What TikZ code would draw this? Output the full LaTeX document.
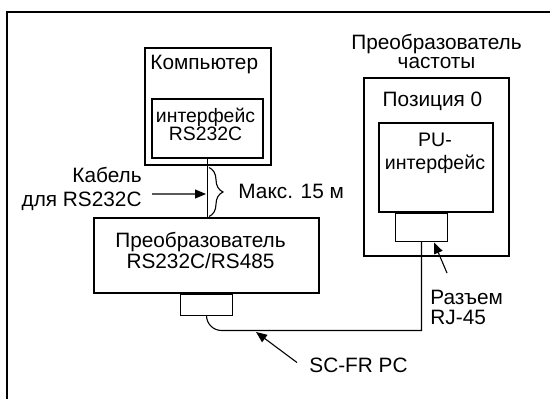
\documentclass[tikz,border=0pt]{standalone}
\usepackage{fontspec}
\setmainfont{Liberation Sans}
\usetikzlibrary{arrows.meta,positioning,decorations.pathreplacing}
\lineskiplimit=-\maxdimen
\newcommand\fsz[1]{\fontsize{10.4}{#1}\selectfont}

\begin{document}
\begin{tikzpicture}[
    x=0.5pt,y=-0.5pt,
    unitbox/.style={draw,line width=1pt,inner sep=0pt},
    partbox/.style={draw,line width=0.55pt,inner sep=0pt},
    txt/.style={inner sep=0pt,font=\fsz{12pt}},
    arr/.style={-{Triangle[length=5.5pt,width=4.5pt]},line width=0.55pt},
    cable/.style={line width=0.55pt},
    bracket/.style={decorate,decoration={brace,amplitude=7pt},line width=0.55pt}
  ]
  \useasboundingbox (0,0) rectangle (550,399);
  \draw[line width=1pt] (7,399) -- (7,12) -- (550,12);
  % computer
  \node[unitbox,minimum width=63pt,minimum height=58.5pt] (pc) at (208,106.5) {};
  \node[txt,anchor=base west] (pcname) at (150,70) {Компьютер};
  \node[partbox,minimum width=55.5pt,minimum height=29.5pt] (rsif) at (207.5,128.5) {};
  \node[txt,align=center,font=\fontsize{9.7}{9.2pt}\selectfont] (rsifname) at (205.5,124.5) {интерфейс\\RS232C};
  % converter
  \node[partbox,minimum width=112.5pt,minimum height=37.5pt] (conv) at (206.5,255.5) {};
  \node[txt,align=center,font=\fsz{10.85pt}] (convname) at (200.5,250.6) {Преобразователь\\RS232C/RS485};
  \node[partbox,minimum width=26pt,minimum height=10.5pt,below=0pt of conv] (pcon) {};
  % inverter
  \node[unitbox,minimum width=72.5pt,minimum height=89pt] (fc) at (436.5,167) {};
  \node[txt,align=center,font=\fsz{9.5pt}] (fcname) at (436.5,51.8) {Преобразователь\\частоты};
  \node[txt,anchor=base] (fcpos) at (432.5,106.7) {Позиция 0};
  \node[partbox,minimum width=57pt,minimum height=44.5pt] (pu) at (436,167.5) {};
  \node[txt,align=center,font=\fontsize{9.8}{11.35pt}\selectfont] (puname) at (435,153.4) {PU-\\интерфейс};
  \node[partbox,minimum width=26pt,minimum height=14pt,below=0pt of pu,xshift=-7.25pt] (fcon) {};
  % labels
  \node[txt,align=right,anchor=east] (cablbl) at (142,189.2) {Кабель\\для RS232C};
  \node[txt,anchor=base west] (maxlbl) at (238,198.3) {Макс. 15 м};
  \node[txt,anchor=base west] (scfr) at (309,372.7) {SC-FR PC};
  \node[txt,align=left,anchor=west,font=\fsz{10pt}] (rjlbl) at (430,307.7) {Разъем\\RJ-45};
  % cables
  \coordinate (cabtip) at (206,194);
  \coordinate (bracetop) at (209,167.5);
  \coordinate (bracebot) at (209,216.5);
  \coordinate (cablebend) at (300,330.5);
  \coordinate (frtip) at (256,332);
  \coordinate (rjtip) at (434,242.5);
  \draw[cable] (rsif.south) -- (rsif.south |- conv.north);
  \draw[bracket] (bracetop) -- (bracebot);
  \draw[arr] ([xshift=5pt,yshift=-2.4pt]cablbl.east) -- (cabtip);
  \draw[cable] (pcon.south) [rounded corners=7.5pt] |- (cablebend) [sharp corners] -| (fcon.south);
  \draw[arr] ([xshift=-6pt,yshift=1.5pt]scfr.west) -- (frtip);
  \draw[arr] ([xshift=8.5pt,yshift=8.5pt]rjlbl.north west) -- (rjtip);
\end{tikzpicture}
\end{document}
